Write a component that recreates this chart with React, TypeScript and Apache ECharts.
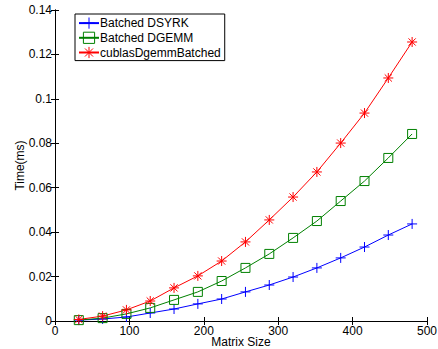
import React, { useEffect, useRef } from "react";
import * as echarts from "echarts";

const matrixSizes = [32, 64, 96, 128, 160, 192, 224, 256, 288, 320, 352, 384, 416, 448, 480];
const dsyrk = [0.0004, 0.0009, 0.0018, 0.0036, 0.0054, 0.0077, 0.0099, 0.0131, 0.0162, 0.0198, 0.0239, 0.0284, 0.0333, 0.0387, 0.0437];
const dgemm = [0.0004, 0.0013, 0.0032, 0.0059, 0.0095, 0.0131, 0.018, 0.0239, 0.0302, 0.0374, 0.045, 0.054, 0.063, 0.0734, 0.0842];
const cublas = [0.0007, 0.0022, 0.005, 0.009, 0.0149, 0.0203, 0.027, 0.0356, 0.0455, 0.0558, 0.0671, 0.0801, 0.0936, 0.1094, 0.1256];
const seriesNames = ["Batched DSYRK", "Batched DGEMM", "cublasDgemmBatched"];

const FONT = "'Liberation Sans', Arial, Helvetica, sans-serif";

const PLUS = "path://M0,-5L0,5M-5,0L5,0";
const SQUARE = "path://M-5,-5L5,-5L5,5L-5,5Z";
const STAR = "path://M0,-5L0,5M-5,0L5,0M-3.6,-3.6L3.6,3.6M-3.6,3.6L3.6,-3.6";

function mk(name: string, vals: number[], color: string, symbol: string, size: number) {
  return {
    name,
    type: "line",
    data: matrixSizes.map((x, i) => [x, vals[i]]),
    symbol,
    symbolSize: size,
    showAllSymbol: true,
    lineStyle: { color, width: 1 },
    itemStyle: { color: "transparent", borderColor: color, borderWidth: 1 },
    emphasis: { disabled: true },
  };
}

export default function App() {
  const ref = useRef<HTMLDivElement>(null);
  useEffect(() => {
    if (!ref.current) return;
    const chart = echarts.init(ref.current, null, { renderer: "svg" });
    const axisCommon = {
      type: "value",
      axisLine: { show: true, lineStyle: { color: "#000", width: 1 } },
      axisTick: { show: true, inside: true, length: 4, lineStyle: { color: "#000" } },
      splitLine: { show: false },
      nameMoveOverlap: false,
    };
    chart.setOption({
      animation: false,
      backgroundColor: "#fff",
      textStyle: { fontFamily: FONT },
      grid: { left: 55, right: 11, top: 10, bottom: 28, containLabel: false, outerBoundsMode: "none" },
      legend: {
        orient: "vertical",
        left: 75,
        top: 14,
        data: seriesNames,
        borderColor: "#000",
        borderWidth: 1,
        padding: [3, 4, 2, 3],
        backgroundColor: "#fff",
        itemWidth: 20,
        itemHeight: 14,
        itemGap: 2.5,
        itemStyle: { borderWidth: 1 },
        textStyle: { fontSize: 12, color: "#000", fontFamily: FONT, padding: [0, 0, 0, -4] },
      },
      xAxis: [
        {
          ...axisCommon,
          position: "bottom",
          min: 0,
          max: 500,
          interval: 100,
          name: "Matrix Size",
          nameLocation: "middle",
          nameGap: 15,
          nameTextStyle: { fontSize: 12, color: "#000", fontFamily: FONT },
          axisLabel: { fontSize: 12, color: "#000", margin: 4, fontFamily: FONT },
        },
        {
          ...axisCommon,
          position: "top",
          min: 0,
          max: 500,
          interval: 100,
          axisLabel: { show: false },
        },
      ],
      yAxis: [
        {
          ...axisCommon,
          position: "left",
          min: 0,
          max: 0.14,
          interval: 0.02,
          name: "Time(ms)",
          nameLocation: "middle",
          nameGap: 29,
          nameTextStyle: { fontSize: 12, color: "#000", fontFamily: FONT },
          axisLabel: { fontSize: 12, color: "#000", margin: 3, fontFamily: FONT },
        },
        {
          ...axisCommon,
          position: "right",
          min: 0,
          max: 0.14,
          interval: 0.02,
          axisLabel: { show: false },
        },
      ],
      series: [
        mk(seriesNames[0], dsyrk, "#0000ff", PLUS, 10),
        mk(seriesNames[1], dgemm, "#008000", SQUARE, 9),
        mk(seriesNames[2], cublas, "#ff0000", STAR, 10),
      ],
    });
    return () => chart.dispose();
  }, []);
  return <div ref={ref} style={{ position: "fixed", left: 0, top: 0, width: 438, height: 349 }} />;
}
